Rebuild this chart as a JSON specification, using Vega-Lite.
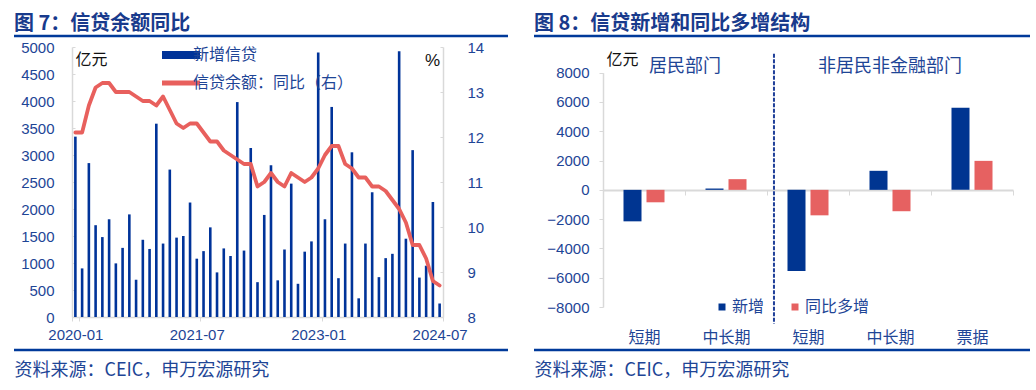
{
  "$schema": "https://vega.github.io/schema/vega-lite/v6.json",
  "background": "white",
  "padding": {"left": 12, "top": 13, "right": 0, "bottom": 0},
  "spacing": 22,
  "config": {"view": {"stroke": null}, "font": "Noto Sans CJK SC"},
  "resolve": {"scale": {"color": "independent"}, "legend": {"color": "independent"}},
  "datasets": {
    "loans": [
      {"m": "2020-01", "v": 3340, "r": 12.1}, {"m": "2020-02", "v": 900, "r": 12.1}, {"m": "2020-03", "v": 2850, "r": 12.7},
      {"m": "2020-04", "v": 1700, "r": 13.1}, {"m": "2020-05", "v": 1480, "r": 13.2}, {"m": "2020-06", "v": 1810, "r": 13.2},
      {"m": "2020-07", "v": 993, "r": 13.0}, {"m": "2020-08", "v": 1280, "r": 13.0}, {"m": "2020-09", "v": 1900, "r": 13.0},
      {"m": "2020-10", "v": 690, "r": 12.9}, {"m": "2020-11", "v": 1430, "r": 12.8}, {"m": "2020-12", "v": 1260, "r": 12.8},
      {"m": "2021-01", "v": 3580, "r": 12.7}, {"m": "2021-02", "v": 1360, "r": 12.9}, {"m": "2021-03", "v": 2730, "r": 12.6},
      {"m": "2021-04", "v": 1470, "r": 12.3}, {"m": "2021-05", "v": 1500, "r": 12.2}, {"m": "2021-06", "v": 2120, "r": 12.3},
      {"m": "2021-07", "v": 1080, "r": 12.3}, {"m": "2021-08", "v": 1220, "r": 12.1}, {"m": "2021-09", "v": 1660, "r": 11.9},
      {"m": "2021-10", "v": 826, "r": 11.9}, {"m": "2021-11", "v": 1270, "r": 11.7}, {"m": "2021-12", "v": 1130, "r": 11.6},
      {"m": "2022-01", "v": 3980, "r": 11.5}, {"m": "2022-02", "v": 1230, "r": 11.4}, {"m": "2022-03", "v": 3130, "r": 11.4},
      {"m": "2022-04", "v": 645, "r": 10.9}, {"m": "2022-05", "v": 1890, "r": 11.0}, {"m": "2022-06", "v": 2810, "r": 11.2},
      {"m": "2022-07", "v": 679, "r": 11.0}, {"m": "2022-08", "v": 1250, "r": 10.9}, {"m": "2022-09", "v": 2470, "r": 11.2},
      {"m": "2022-10", "v": 615, "r": 11.1}, {"m": "2022-11", "v": 1210, "r": 11.0}, {"m": "2022-12", "v": 1400, "r": 11.1},
      {"m": "2023-01", "v": 4900, "r": 11.3}, {"m": "2023-02", "v": 1810, "r": 11.6}, {"m": "2023-03", "v": 3890, "r": 11.8},
      {"m": "2023-04", "v": 719, "r": 11.8}, {"m": "2023-05", "v": 1360, "r": 11.4}, {"m": "2023-06", "v": 3050, "r": 11.3},
      {"m": "2023-07", "v": 346, "r": 11.1}, {"m": "2023-08", "v": 1360, "r": 11.1}, {"m": "2023-09", "v": 2310, "r": 10.9},
      {"m": "2023-10", "v": 738, "r": 10.9}, {"m": "2023-11", "v": 1090, "r": 10.8}, {"m": "2023-12", "v": 1170, "r": 10.6},
      {"m": "2024-01", "v": 4920, "r": 10.4}, {"m": "2024-02", "v": 1450, "r": 10.1}, {"m": "2024-03", "v": 3090, "r": 9.6},
      {"m": "2024-04", "v": 730, "r": 9.6}, {"m": "2024-05", "v": 950, "r": 9.3}, {"m": "2024-06", "v": 2130, "r": 8.8},
      {"m": "2024-07", "v": 250, "r": 8.7}
    ],
    "struct": [
      {"cat": "居民短期", "series": "新增", "v": -2150},
      {"cat": "居民短期", "series": "同比多增", "v": -850},
      {"cat": "居民中长期", "series": "新增", "v": 90},
      {"cat": "居民中长期", "series": "同比多增", "v": 730},
      {"cat": "非居民短期", "series": "新增", "v": -5550},
      {"cat": "非居民短期", "series": "同比多增", "v": -1740},
      {"cat": "非居民中长期", "series": "新增", "v": 1300},
      {"cat": "非居民中长期", "series": "同比多增", "v": -1460},
      {"cat": "票据", "series": "新增", "v": 5600},
      {"cat": "票据", "series": "同比多增", "v": 1980}
    ],
    "edges": [{"p": 0}, {"p": 1}]
  },
  "hconcat": [
    {
      "width": 494,
      "height": 314,
      "title": {"text": "图 7：信贷余额同比", "anchor": "start", "frame": "group", "fontSize": 20, "fontWeight": "bold", "font": "Noto Sans CJK SC", "color": "#183A8C", "offset": 1},
      "layer": [
        {
          "data": {"name": "loans"},
          "mark": {"type": "bar", "width": 2.6, "color": "#003399"},
          "encoding": {
            "x": {"field": "m", "type": "ordinal",
              "scale": {"rangeMin": 58, "rangeMax": 429, "paddingInner": 0, "paddingOuter": 0},
              "axis": {"orient": "bottom", "offset": -33, "title": null, "values": ["2020-01", "2021-07", "2023-01", "2024-07"],
                "labelAngle": 0, "labelFont": "Liberation Sans", "labelFontSize": 15, "labelColor": "#1E4596", "labelPadding": 6,
                "domainColor": "#D9D9D9", "domainWidth": 1.5, "tickColor": "#D9D9D9", "tickSize": 4, "tickBand": "extent", "grid": false}},
            "y": {"field": "v", "type": "quantitative",
              "scale": {"domain": [0, 5000], "rangeMin": 281, "rangeMax": 11, "nice": false, "zero": true},
              "axis": {"orient": "left", "offset": -58, "values": [0, 500, 1000, 1500, 2000, 2500, 3000, 3500, 4000, 4500, 5000], "format": "d",
                "grid": false, "labelFont": "Liberation Sans", "labelFontSize": 15, "labelColor": "#1E4596", "labelPadding": 21,
                "domainColor": "#D9D9D9", "domainWidth": 1.5, "tickColor": "#D9D9D9", "tickSize": -3,
                "title": "亿元", "titleAngle": 0, "titleAlign": "left", "titleBaseline": "middle", "titleX": 3, "titleY": 23,
                "titleFont": "Noto Sans CJK SC", "titleFontSize": 16, "titleFontWeight": "normal", "titleColor": "#111111"}},
            "color": {"datum": "新增信贷", "type": "nominal",
              "scale": {"domain": ["新增信贷", "信贷余额：同比（右）"], "range": ["#003399", "#E8605D"]},
              "legend": {"orient": "none", "direction": "vertical", "legendX": 159, "legendY": 11, "title": null, "symbolType": "stroke", "symbolSize": 1444,
                "symbolStrokeWidth": 5, "labelFont": "Noto Sans CJK SC", "labelFontSize": 16, "labelColor": "#1E4596", "labelOffset": 4, "labelLimit": 400,
                "rowPadding": 2, "padding": 0,
                "encode": {"symbols": {"update": {"stroke": {"scale": "color", "field": "value"}, "strokeWidth": {"signal": "datum.value === '新增信贷' ? 8 : 5"}}}}}}
          }
        },
        {
          "data": {"name": "loans"},
          "mark": {"type": "line", "strokeWidth": 3.8, "strokeJoin": "round", "strokeCap": "round"},
          "encoding": {
            "x": {"field": "m", "type": "ordinal"},
            "y": {"field": "r", "type": "quantitative",
              "scale": {"domain": [8, 14], "rangeMin": 281, "rangeMax": 11, "nice": false, "zero": false},
              "axis": {"orient": "right", "offset": -65, "values": [8, 9, 10, 11, 12, 13, 14], "grid": false,
                "labelFont": "Liberation Sans", "labelFontSize": 15, "labelColor": "#1E4596", "labelPadding": 27,
                "domainColor": "#D9D9D9", "domainWidth": 1.5, "tickColor": "#D9D9D9", "tickSize": -3,
                "title": "%", "titleAngle": 0, "titleAlign": "center", "titleBaseline": "middle", "titleX": -11, "titleY": 24,
                "titleFont": "Liberation Sans", "titleFontSize": 17, "titleFontWeight": "normal", "titleColor": "#111111"}},
            "color": {"datum": "信贷余额：同比（右）", "type": "nominal"}
          }
        },
        {
          "data": {"name": "edges"},
          "mark": {"type": "rule", "color": "#003A9A", "strokeWidth": 2.5},
          "encoding": {
            "y": {"field": "p", "type": "quantitative", "scale": {"domain": [0, 1], "nice": false},
              "axis": {"orient": "left", "domain": false, "labels": false, "ticks": false, "grid": false,
                "title": "资料来源：CEIC，申万宏源研究", "titleAngle": 0, "titleAlign": "left", "titleBaseline": "middle",
                "titleX": 0, "titleY": 334, "titleFont": "Noto Sans CJK SC", "titleFontSize": 18, "titleFontWeight": "normal", "titleColor": "#1E4596", "titleLimit": 400}}
          }
        }
      ],
      "resolve": {"scale": {"y": "independent", "color": "shared"}}
    },
    {
      "width": 496,
      "height": 314,
      "title": {"text": "图 8：信贷新增和同比多增结构", "anchor": "start", "frame": "group", "fontSize": 20, "fontWeight": "bold", "font": "Noto Sans CJK SC", "color": "#183A8C", "offset": 1},
      "layer": [
        {
          "data": {"name": "struct"},
          "mark": {"type": "bar"},
          "encoding": {
            "x": {"field": "cat", "type": "nominal",
              "scale": {"domain": ["居民短期", "居民中长期", "非居民短期", "非居民中长期", "票据"], "rangeMin": 69, "rangeMax": 479, "paddingInner": 0, "paddingOuter": 0},
              "axis": {"orient": "bottom", "offset": -160, "title": null, "labelAngle": 0,
                "labelExpr": "datum.value ? replace(replace(datum.value, '非居民', ''), '居民', '') : ''",
                "labelFont": "Noto Sans CJK SC", "labelFontSize": 16, "labelColor": "#1E4596", "labelPadding": 134,
                "domainColor": "#D9D9D9", "domainWidth": 2, "tickColor": "#D9D9D9", "tickSize": 5, "tickBand": "extent", "grid": false}},
            "xOffset": {"field": "series", "type": "nominal", "sort": ["新增", "同比多增"],
              "scale": {"paddingInner": 0.217, "paddingOuter": 0.891}},
            "y": {"field": "v", "type": "quantitative",
              "scale": {"domain": [-8000, 8000], "rangeMin": 271, "rangeMax": 36.7, "nice": false},
              "axis": {"orient": "left", "offset": -69, "values": [-8000, -6000, -4000, -2000, 0, 2000, 4000, 6000, 8000], "format": "d", "grid": false,
                "labelFont": "Liberation Sans", "labelFontSize": 15, "labelColor": "#1E4596", "labelPadding": 10,
                "domainColor": "#D9D9D9", "domainWidth": 1.5, "tickColor": "#D9D9D9", "tickSize": 4,
                "title": "亿元", "titleAngle": 0, "titleAlign": "left", "titleBaseline": "middle", "titleX": 3, "titleY": 23,
                "titleFont": "Noto Sans CJK SC", "titleFontSize": 16, "titleFontWeight": "normal", "titleColor": "#111111"}},
            "color": {"field": "series", "type": "nominal",
              "scale": {"domain": ["新增", "同比多增"], "range": ["#003591", "#E66161"]},
              "legend": {"orient": "none", "direction": "horizontal", "legendX": 180, "legendY": 263, "title": null,
                "symbolType": "square", "symbolSize": 49, "symbolStrokeWidth": 0, "labelFont": "Noto Sans CJK SC", "labelFontSize": 16,
                "labelColor": "#1E4596", "labelOffset": 2, "columnPadding": 22, "padding": 0}}
          }
        },
        {
          "data": {"values": [{"cat": "非居民短期", "top": 9300, "bottom": -9150}]},
          "mark": {"type": "rule", "color": "#1F3F99", "strokeWidth": 2, "strokeDash": [4, 1.5]},
          "encoding": {
            "x": {"field": "cat", "type": "nominal", "bandPosition": 0.085,
              "scale": {"domain": ["居民短期", "居民中长期", "非居民短期", "非居民中长期", "票据"]}},
            "y": {"field": "top", "type": "quantitative", "scale": {"domain": [-8000, 8000], "rangeMin": 271, "rangeMax": 36.7, "nice": false}, "axis": null},
            "y2": {"field": "bottom"}
          }
        },
        {
          "data": {"values": [{"cat": "居民短期", "t": "居民部门", "h": 8390}]},
          "mark": {"type": "text", "font": "Noto Sans CJK SC", "fontSize": 18, "color": "#1E4596", "align": "center", "baseline": "middle"},
          "encoding": {
            "x": {"field": "cat", "type": "nominal", "bandPosition": 1,
              "scale": {"domain": ["居民短期", "居民中长期", "非居民短期", "非居民中长期", "票据"]}},
            "y": {"field": "h", "type": "quantitative", "scale": {"domain": [-8000, 8000], "rangeMin": 271, "rangeMax": 36.7, "nice": false}, "axis": null},
            "text": {"field": "t"}
          }
        },
        {
          "data": {"values": [{"cat": "非居民中长期", "t": "非居民非金融部门", "h": 8390}]},
          "mark": {"type": "text", "font": "Noto Sans CJK SC", "fontSize": 18, "color": "#1E4596", "align": "center", "baseline": "middle"},
          "encoding": {
            "x": {"field": "cat", "type": "nominal",
              "scale": {"domain": ["居民短期", "居民中长期", "非居民短期", "非居民中长期", "票据"]}},
            "y": {"field": "h", "type": "quantitative", "scale": {"domain": [-8000, 8000], "rangeMin": 271, "rangeMax": 36.7, "nice": false}, "axis": null},
            "text": {"field": "t"}
          }
        },
        {
          "data": {"name": "edges"},
          "mark": {"type": "rule", "color": "#003A9A", "strokeWidth": 2.5},
          "encoding": {
            "y": {"field": "p", "type": "quantitative", "scale": {"domain": [0, 1], "nice": false},
              "axis": {"orient": "left", "domain": false, "labels": false, "ticks": false, "grid": false,
                "title": "资料来源：CEIC，申万宏源研究", "titleAngle": 0, "titleAlign": "left", "titleBaseline": "middle",
                "titleX": 0, "titleY": 334, "titleFont": "Noto Sans CJK SC", "titleFontSize": 18, "titleFontWeight": "normal", "titleColor": "#1E4596", "titleLimit": 400}}
          }
        }
      ],
      "resolve": {"scale": {"y": "independent"}}
    }
  ]
}
